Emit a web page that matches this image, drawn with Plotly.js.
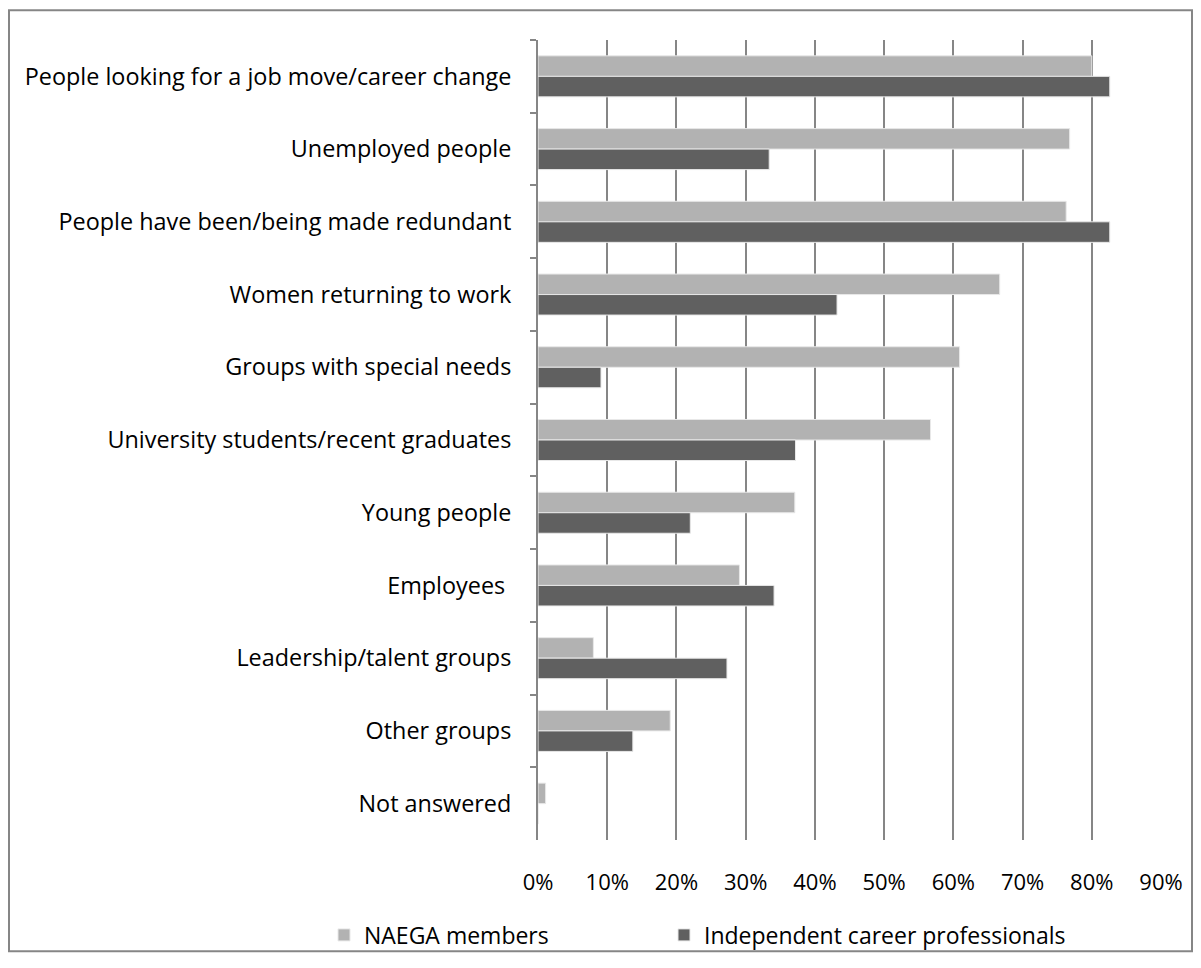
<!DOCTYPE html>
<html>
<head>
<meta charset="utf-8">
<script src="https://cdn.plot.ly/plotly-3.0.1.min.js"></script>
<style>
html,body{margin:0;padding:0;background:#fff;}
#chart{width:1201px;height:968px;}
</style>
</head>
<body>
<div id="chart"></div>
<script>
const categories = [
  "People looking for a job move/career change",
  "Unemployed people",
  "People have been/being made redundant",
  "Women returning to work",
  "Groups with special needs",
  "University students/recent graduates",
  "Young people",
  "Employees\u00a0",
  "Leadership/talent groups",
  "Other groups",
  "Not answered"
];
const naegaMembers = [0.800, 0.768, 0.763, 0.667, 0.609, 0.567, 0.371, 0.291, 0.080, 0.191, 0.011];
const independentPros = [0.826, 0.334, 0.826, 0.432, 0.091, 0.372, 0.220, 0.341, 0.273, 0.137, 0];
const seriesNames = ["NAEGA members", "Independent career professionals"];
const xTickVals = [0, 0.1, 0.2, 0.3, 0.4, 0.5, 0.6, 0.7, 0.8, 0.9];

const fontFam = "'Open Sans', 'Noto Sans', sans-serif";
const FS = 23;

const traces = [
  {
    type: 'bar', orientation: 'h', name: seriesNames[0], legend: 'legend',
    y: categories, x: naegaMembers,
    marker: {color: '#b2b2b2', line: {color: '#e8e8e8', width: 1}},
    hoverinfo: 'x+y'
  },
  {
    type: 'bar', orientation: 'h', name: seriesNames[1], legend: 'legend2',
    y: categories, x: independentPros,
    marker: {color: '#606060', line: {color: '#e8e8e8', width: 1}},
    hoverinfo: 'x+y'
  }
];

const L = 538, R = 1161, T = 40, B = 846;
const W = R - L, H = B - T;
function px(x){ return (x - L) / W; }
function py(y){ return (B - y) / H; }

const legendBase = {
  orientation: 'h', xanchor: 'left', yanchor: 'top',
  font: {family: fontFam, size: FS, color: '#000'},
  bgcolor: 'rgba(0,0,0,0)', borderwidth: 0,
  traceorder: 'normal', itemclick: false
};

const layout = {
  width: 1201, height: 968,
  margin: {l: L, r: 1201 - R, t: T, b: 968 - B, pad: 0},
  paper_bgcolor: '#ffffff', plot_bgcolor: '#ffffff',
  font: {family: fontFam, size: FS, color: '#000000'},
  barmode: 'group',
  bargap: 0.436,
  bargroupgap: 0,
  showlegend: true,
  legend: Object.assign({}, legendBase, {x: px(324), y: py(920)}),
  legend2: Object.assign({}, legendBase, {x: px(664), y: py(920)}),
  xaxis: {
    range: [0, 0.9], tickvals: xTickVals, tickformat: '.0%',
    showgrid: true, gridcolor: '#868686', gridwidth: 2,
    zeroline: false, showline: false, ticks: '',
    tickfont: {family: fontFam, size: 22, color: '#000'},
    ticklabelstandoff: 27, fixedrange: true
  },
  yaxis: {
    autorange: 'reversed', type: 'category',
    showline: true, linecolor: '#868686', linewidth: 2,
    ticks: 'outside', tickson: 'boundaries', ticklen: 6, tickwidth: 2, tickcolor: '#868686',
    showgrid: false, zeroline: false,
    tickfont: {family: fontFam, size: 23.4, color: '#000'},
    ticklabelstandoff: 20, fixedrange: true
  },
  shapes: [{
    type: 'rect', xref: 'paper', yref: 'paper',
    x0: px(9), x1: px(1192), y0: py(958), y1: py(10),
    line: {color: '#868686', width: 2}, fillcolor: 'rgba(0,0,0,0)', layer: 'below'
  }]
};

Plotly.newPlot('chart', traces, layout, {displayModeBar: false, staticPlot: true});
</script>
</body>
</html>
